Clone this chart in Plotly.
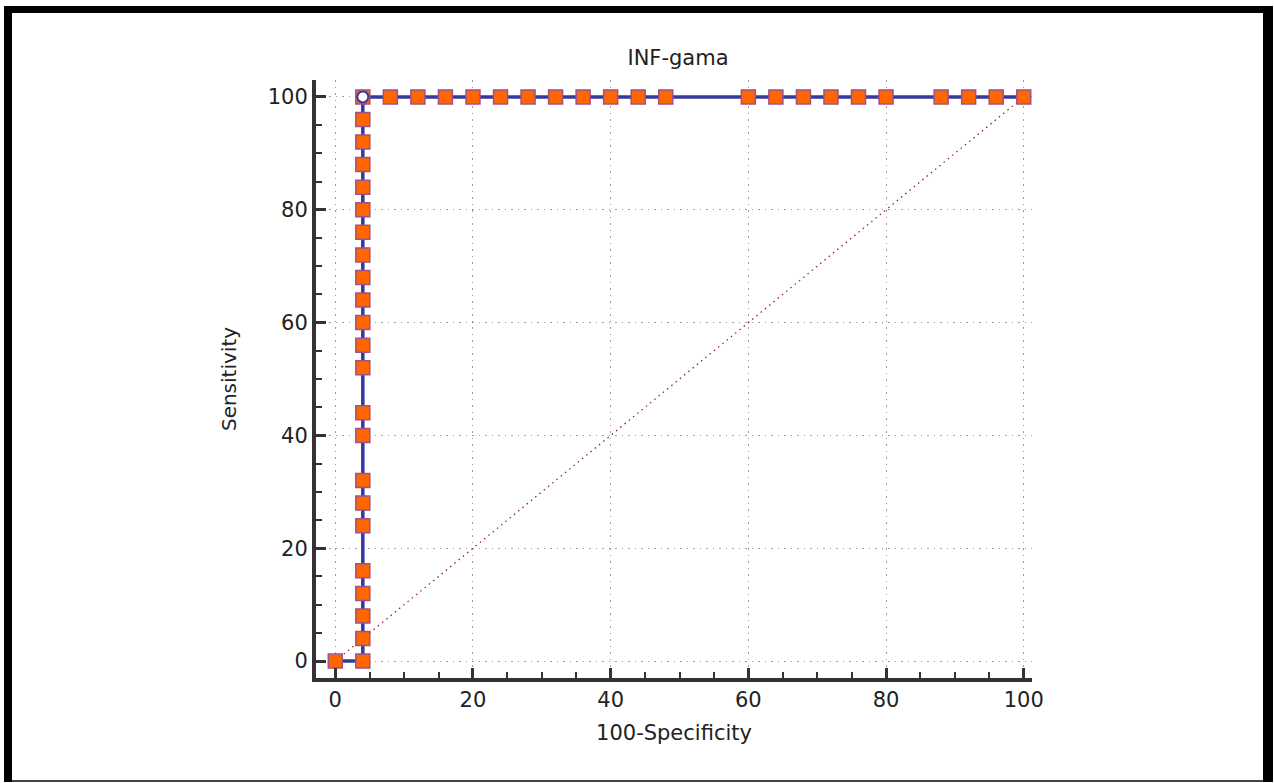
import plotly.graph_objects as go

# ROC curve points (100-Specificity, Sensitivity)
fpr = [0, 4, 4, 4, 4, 4, 4, 4, 4, 4, 4, 4, 4, 4, 4, 4, 4, 4, 4, 4, 4, 4, 4, 4,
       8, 12, 16, 20, 24, 28, 32, 36, 40, 44, 48, 60, 64, 68, 72, 76, 80, 88, 92, 96, 100]
tpr = [0, 0, 4, 8, 12, 16, 24, 28, 32, 40, 44, 52, 56, 60, 64, 68, 72, 76, 80, 84, 88, 92, 96, 100,
       100, 100, 100, 100, 100, 100, 100, 100, 100, 100, 100, 100, 100, 100, 100, 100, 100, 100, 100, 100, 100]
# optimal cut-off point
opt_x = [4]
opt_y = [100]
# reference diagonal
diag_x = [0, 100]
diag_y = [0, 100]

tick_vals = [0, 20, 40, 60, 80, 100]

W, H = 1274, 783
L, R, T, B = 316, 1032, 80, 678
FONT = "DejaVu Sans, Arial, sans-serif"

fig = go.Figure()
fig.add_trace(go.Scatter(x=diag_x, y=diag_y, mode="lines",
                         line=dict(color="#8B1A1A", width=1.2, dash="1.5px,4px"),
                         hoverinfo="skip", showlegend=False))
fig.add_trace(go.Scatter(x=fpr, y=tpr, mode="lines+markers",
                         line=dict(color="#38389A", width=3.5),
                         marker=dict(symbol="square", size=14, color="#FF6600",
                                     line=dict(color="#A0508A", width=1.5)),
                         showlegend=False))
fig.add_trace(go.Scatter(x=opt_x, y=opt_y, mode="markers",
                         marker=dict(symbol="circle", size=11, color="white",
                                     line=dict(color="#38389A", width=2)),
                         showlegend=False))

def px_x(p):
    return (p - L) / (R - L)

def px_y(p):
    return (B - p) / (B - T)

shapes = []
def rect(x0, y0, x1, y1, color):
    shapes.append(dict(type="rect", xref="paper", yref="paper",
                       x0=px_x(x0), x1=px_x(x1), y0=px_y(y1), y1=px_y(y0),
                       fillcolor=color, line=dict(width=0), layer="above"))

rect(4, 6, 12, 782, "black")
rect(4, 6, 1273, 13, "black")
rect(1263, 6, 1273, 782, "black")
rect(12, 780, 1263, 782, "#444444")

axis_common = dict(
    showline=True, linecolor="#333333", linewidth=4, mirror=False,
    ticks="inside", ticklen=10, tickwidth=3, tickcolor="#333333",
    tickvals=tick_vals,
    showgrid=True, gridcolor="#9A9A9A", griddash="1.5px,5px", gridwidth=1,
    zeroline=False,
    tickfont=dict(family=FONT, size=21, color="#222222"),
    minor=dict(dtick=5, ticks="inside", ticklen=6, tickwidth=2, tickcolor="#333333", showgrid=False),
)

fig.update_layout(
    width=W, height=H,
    margin=dict(l=L, r=W - R, t=T, b=H - B),
    paper_bgcolor="white", plot_bgcolor="white",
    title=dict(text="INF-gama", x=678 / W, xanchor="center", y=1 - 58 / H, yanchor="middle",
               font=dict(family=FONT, size=21, color="#222222")),
    xaxis=dict(range=[-2.8, 101.2],
               title=dict(text="100-Specificity", standoff=15,
                          font=dict(family=FONT, size=21, color="#222222")),
               **axis_common),
    yaxis=dict(range=[-3, 103],
               title=dict(text="Sensitivity", standoff=27,
                          font=dict(family=FONT, size=20, color="#222222")),
               **axis_common),
    shapes=shapes,
)

fig.write_html("out.html", config={"displayModeBar": False},
               post_script="document.body.style.margin='0';document.body.style.overflow='hidden';")
